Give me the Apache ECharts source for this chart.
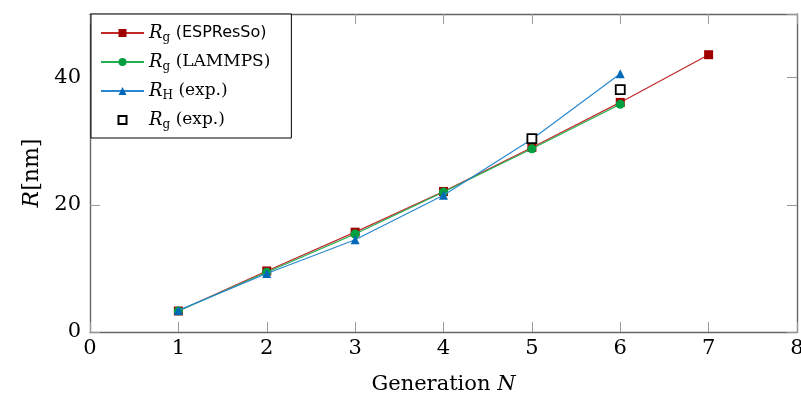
<!DOCTYPE html>
<html>
<head>
<meta charset="utf-8">
<script src="https://cdn.jsdelivr.net/npm/echarts@6/dist/echarts.min.js"></script>
<style>
  html, body { margin: 0; padding: 0; background: #fff; }
  #chart { width: 801px; height: 399px; }
</style>
</head>
<body>
<div id="chart"></div>
<script>
// Generation numbers and radii in nm
const genEsp = [1, 2, 3, 4, 5, 6, 7];
const rgEsp = [3.3, 9.6, 15.7, 22.1, 29.0, 36.1, 43.6];
const genLammps = [1, 2, 3, 4, 5, 6];
const rgLammps = [3.3, 9.4, 15.4, 22.0, 28.8, 35.8];
const genRh = [1, 2, 3, 4, 5, 6];
const rhExp = [3.4, 9.2, 14.5, 21.5, 30.3, 40.6];
const genRgExp = [5, 6];
const rgExp = [30.4, 38.1];
const xTicks = [0, 1, 2, 3, 4, 5, 6, 7, 8];
const yTicks = [0, 20, 40];

const SERIF = "DejaVu Serif";
const AXIS_COLOR = "#666";

const pairs = (xs, ys) => xs.map((x, i) => [x, ys[i]]);

const chart = echarts.init(document.getElementById("chart"));

const legendLabels = {
  esp: "{i|R}{s|g} {sans|(ESPResSo)}",
  lammps: "{i|R}{s|g} {t|(LAMMPS)}",
  rh: "{i|R}{s|H} {t|(exp.)}",
  rgexp: "{i|R}{s|g} {t|(exp.)}",
};

const axisCommon = {
  axisLine: { show: true, onZero: false, lineStyle: { color: AXIS_COLOR, width: 1.4 } },
  axisTick: { show: true, inside: true, length: 10, lineStyle: { color: "#999", width: 1 } },
  splitLine: { show: false },
};

chart.setOption({
  animation: false,
  backgroundColor: "#fff",
  grid: { left: 90, right: 4, top: 14, bottom: 67, outerBoundsMode: "none" },
  legend: {
    orient: "vertical",
    left: 91,
    top: 14,
    backgroundColor: "#fff",
    borderColor: "#000",
    borderWidth: 1,
    borderRadius: 0,
    padding: [10, 21, 7, 9],
    itemWidth: 43,
    itemHeight: 10,
    itemGap: 9,
    data: ["esp", "lammps", "rh", "rgexp"],
    formatter: (name) => legendLabels[name],
    textStyle: {
      color: "#000",
      fontFamily: SERIF,
      fontSize: 17,
      rich: {
        i: { fontFamily: SERIF, fontStyle: "italic", fontSize: 18, color: "#000" },
        s: { fontFamily: SERIF, fontSize: 12, color: "#000", padding: [10, 0, 0, 0] },
        t: { fontFamily: SERIF, fontSize: 17, color: "#000" },
        sans: { fontFamily: "DejaVu Sans", fontSize: 16, color: "#000" },
      },
    },
  },
  xAxis: [
    {
      type: "value",
      min: 0,
      max: 8,
      interval: 1,
      position: "bottom",
      name: "Generation {n|N}",
      nameLocation: "middle",
      nameGap: 42,
      nameTextStyle: {
        fontFamily: SERIF,
        fontSize: 21,
        color: "#000",
        rich: { n: { fontFamily: SERIF, fontStyle: "italic", fontSize: 21, color: "#000" } },
      },
      axisLabel: {
        color: "#000",
        fontFamily: SERIF,
        fontSize: 21,
        margin: 6,
        customValues: xTicks,
      },
      ...axisCommon,
    },
    {
      type: "value",
      min: 0,
      max: 8,
      interval: 1,
      position: "top",
      axisLabel: { show: false },
      ...axisCommon,
    },
  ],
  yAxis: [
    {
      type: "value",
      min: 0,
      max: 50,
      interval: 20,
      position: "left",
      name: "{i|R}[nm]",
      nameLocation: "middle",
      nameGap: 46,
      nameRotate: 90,
      nameTextStyle: {
        fontFamily: SERIF,
        fontSize: 22,
        color: "#000",
        rich: { i: { fontFamily: SERIF, fontStyle: "italic", fontSize: 22, color: "#000" } },
      },
      axisLabel: {
        color: "#000",
        fontFamily: SERIF,
        fontSize: 21,
        margin: 9,
        customValues: yTicks,
      },
      ...axisCommon,
    },
    {
      type: "value",
      min: 0,
      max: 50,
      interval: 20,
      position: "right",
      axisLabel: { show: false },
      ...axisCommon,
    },
  ],
  series: [
    {
      name: "esp",
      type: "line",
      data: pairs(genEsp, rgEsp),
      symbol: "rect",
      symbolSize: 9,
      itemStyle: { color: "#a00000" },
      lineStyle: { color: "#c02828", width: 1.2 },
      z: 2,
    },
    {
      name: "lammps",
      type: "line",
      data: pairs(genLammps, rgLammps),
      symbol: "circle",
      symbolSize: 9,
      itemStyle: { color: "#00a040" },
      lineStyle: { color: "#20b050", width: 1.2 },
      z: 3,
    },
    {
      name: "rh",
      type: "line",
      data: pairs(genRh, rhExp),
      symbol: "triangle",
      symbolSize: 9,
      itemStyle: { color: "#0068b8" },
      lineStyle: { color: "#2a88d0", width: 1.2 },
      z: 4,
    },
    {
      name: "rgexp",
      type: "line",
      data: pairs(genRgExp, rgExp),
      symbol: "rect",
      symbolSize: 9,
      itemStyle: { color: "#fff", borderColor: "#000", borderWidth: 1.8 },
      lineStyle: { width: 0, opacity: 0 },
      z: 5,
    },
  ],
});
</script>
</body>
</html>
